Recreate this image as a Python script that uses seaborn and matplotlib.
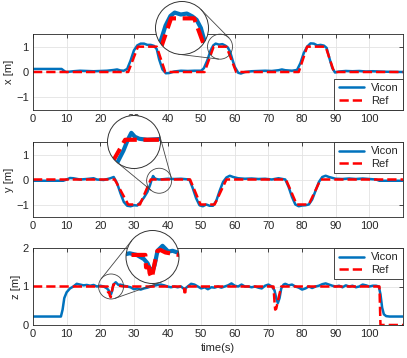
import numpy as np
import seaborn as sns
import matplotlib.pyplot as plt
from matplotlib.patches import Circle, Ellipse
from matplotlib.lines import Line2D

# ---- data ----
t_x_vicon = [0, 8.5, 9.5, 10, 12, 14, 16, 18, 20, 22, 24, 25, 26, 27, 28, 29, 30, 31, 32, 33,
             34, 35, 36, 36.8, 37.5, 38.5, 39.5, 40.5, 42, 44, 46, 48, 50, 50.8, 51.8, 52.8,
             53.6, 54.3, 55.3, 56.3, 57.2, 57.9, 58.6, 59.3, 60, 61, 61.8, 63, 65, 67, 69, 71,
             73, 74, 75, 77, 78.5, 79.5, 80.5, 81.5, 82.5, 83.5, 84.5, 85.5, 86.5, 87.3, 88, 89,
             89.8, 91, 93, 95, 97, 99, 101, 103, 105, 110]
x_vicon = [0.12, 0.12, 0.02, 0.0, 0.03, 0.05, 0.04, 0.03, 0.04, 0.05, 0.08, 0.1, 0.06, 0.05,
           0.12, 0.45, 0.85, 1.05, 1.12, 1.12, 1.07, 1.07, 1.03, 0.9, 0.5, 0.1, -0.05, -0.04,
           0.02, 0.05, 0.04, 0.05, 0.05, 0.15, 0.45, 0.85, 1.05, 1.12, 1.08, 1.1, 1.04, 0.97,
           0.8, 0.48, 0.2, -0.03, -0.06, 0.0, 0.03, 0.04, 0.05, 0.04, 0.07, 0.1, 0.07, 0.05,
           0.08, 0.35, 0.75, 1.0, 1.13, 1.12, 1.05, 1.07, 1.04, 0.95, 0.6, 0.15, -0.02, 0.02,
           0.04, 0.03, 0.04, 0.02, 0.03, 0.02, 0.01, 0.0]
t_x_ref = [0, 28.3, 31.2, 36.8, 39.3, 51.0, 53.7, 57.5, 60.4, 79, 81.5, 87, 89.5, 110]
x_ref = [0, 0, 1, 1, 0, 0, 1, 1, 0, 0, 1, 1, 0, 0]

t_y_vicon = [0, 9, 10, 11, 12, 14, 16, 18, 19, 21, 23, 24, 25, 26, 27, 28, 29, 30, 31, 32, 33,
             34, 34.8, 35.3, 35.7, 36.1, 36.6, 37.5, 38.5, 40, 42, 44, 46.5, 47.5, 48.5, 49.5,
             50.5, 51.5, 52.5, 53.5, 54.5, 55.5, 56.5, 57.5, 58.5, 59.5, 61, 63, 65, 67, 69, 71,
             73, 75, 76, 77, 78, 79, 80, 81, 82, 83, 84, 85, 86, 87, 88, 90, 92, 94, 96, 98, 100,
             102, 103, 110]
y_vicon = [-0.05, -0.05, 0.0, 0.06, 0.05, 0.0, 0.02, 0.05, 0.0, -0.02, 0.05, 0.1, -0.15, -0.55,
           -0.9, -1.05, -1.07, -1.03, -1.04, -0.9, -0.72, -0.5, -0.22, 0.0, 0.14, 0.06, 0.02,
           0.0, 0.01, 0.03, 0.02, 0.03, 0.0, -0.35, -0.75, -1.03, -1.07, -1.0, -1.05, -1.05,
           -0.85, -0.45, -0.1, 0.08, 0.15, 0.1, 0.05, 0.03, 0.04, 0.02, 0.03, 0.0, 0.05, 0.0,
           -0.3, -0.7, -1.0, -1.07, -1.04, -1.03, -1.0, -0.8, -0.45, -0.1, 0.1, 0.15, 0.1, 0.03,
           0.02, 0.04, 0.02, 0.04, 0.02, 0.0, -0.05, -0.05]
t_y_ref = [0, 24.3, 28.3, 31.8, 35, 46.7, 49.8, 54, 57.5, 75.2, 78.4, 82, 85.5, 110]
y_ref = [0, 0, -1, -1, 0, 0, -1, -1, 0, 0, -1, -1, 0, 0]

t_z_vicon = [0, 8.3, 8.8, 9.3, 10, 11, 12, 13, 14, 15, 16, 17, 18, 19, 20, 21, 22, 22.5, 22.9,
             23.2, 23.5, 23.9, 24.6, 25.4, 26, 27, 28, 29, 30, 31, 32, 33, 34, 35, 36, 37, 38,
             39, 40, 41, 42, 43, 44, 45, 46, 47, 48, 49, 50, 51, 52, 53, 54, 55, 56, 57, 58, 59,
             60, 61, 62, 63, 64, 65, 66, 67, 68, 69, 70, 71, 71.8, 72.3, 72.8, 73.3, 73.8, 74.5,
             75, 76, 77, 78, 79, 80, 81, 82, 83, 84, 85, 86, 87, 88, 89, 90, 91, 92, 93, 94, 95,
             96, 97, 98, 99, 100, 101, 102, 102.8, 103.3, 103.8, 104.3, 105, 106, 110]
z_vicon = [0.22, 0.22, 0.4, 0.7, 0.85, 0.95, 1.0, 1.07, 1.05, 1.03, 1.04, 1.02, 1.04, 1.0, 1.02,
           1.0, 0.95, 0.9, 0.82, 0.8, 0.88, 1.05, 1.11, 1.04, 1.05, 1.02, 1.0, 0.98, 0.93, 0.95,
           0.92, 0.95, 0.97, 1.0, 1.02, 1.04, 1.05, 1.03, 1.0, 0.98, 1.0, 0.98, 1.0, 0.93, 1.0,
           1.07, 1.05, 1.0, 0.95, 0.98, 0.93, 0.98, 0.97, 1.0, 0.97, 1.0, 1.03, 1.08, 1.02, 1.0,
           1.05, 1.0, 1.0, 0.98, 1.0, 0.97, 0.95, 1.02, 1.05, 1.0, 0.9, 0.7, 0.57, 0.7, 0.95,
           1.05, 1.07, 1.03, 1.05, 1.0, 0.97, 0.92, 0.95, 1.0, 0.96, 1.0, 1.02, 1.06, 1.08, 1.05,
           1.02, 1.0, 1.02, 0.98, 1.03, 1.0, 1.02, 0.98, 1.0, 1.05, 1.03, 1.0, 1.02, 1.02, 1.0,
           0.8, 0.45, 0.28, 0.23, 0.22, 0.22]
t_z_ref = [0, 22.2, 22.3, 22.7, 22.8, 23.1, 23.5, 23.9, 24.3, 25.0, 26.9, 44.9, 45.0, 45.3,
           45.4, 71.5, 71.8, 72.0, 72.3, 73.0, 73.8, 103.0, 103.3, 110]
z_ref = [1, 1, 0.85, 0.85, 0.78, 0.72, 0.9, 1.05, 1.06, 1.03, 1.0, 1, 0.85, 0.85, 1, 1, 0.6,
         0.4, 0.42, 0.7, 1, 1, 0, 0]

ylabels = ['x [m]', 'y [m]', 'z [m]']
xticks = list(range(0, 101, 10))

BLUE = '#0072BD'
RED = '#FF0000'
DARK = '#262626'

sns.set_theme(style='whitegrid')
plt.rcParams['font.family'] = ['Liberation Sans', 'DejaVu Sans']

W, H = 407, 358
fig = plt.figure(figsize=(W / 100, H / 100), dpi=100)


def rect(l, t, r, b):
    return [l / W, 1 - b / H, (r - l) / W, (b - t) / H]


def draw_pair(ax, tv, v, tr, r, lw):
    sns.lineplot(x=tv, y=v, ax=ax, color=BLUE, lw=lw, label='Vicon',
                 sort=False, estimator=None)
    sns.lineplot(x=tr, y=r, ax=ax, color=RED, lw=lw, linestyle='--', label='Ref',
                 sort=False, estimator=None)


def add_zoom(ax, tv, v, tr, r, center, rs, big, R, xl, yl):
    x0, x1 = ax.get_xlim()
    y0, y1 = ax.get_ylim()
    bb = ax.get_position()
    ppx = bb.width * W / (x1 - x0)
    ppy = bb.height * H / (y1 - y0)
    sx = bb.x0 * W + (center[0] - x0) * ppx
    sy = H - (bb.y0 * H + (center[1] - y0) * ppy)
    ax.add_patch(Ellipse(center, 2 * rs / ppx, 2 * rs / ppy, fill=False, ec='#444444',
                         lw=0.6, clip_on=False, zorder=6))
    bx, by = big
    ins = fig.add_axes(rect(bx - R, by - R, bx + R, by + R))
    ins.axis('off')
    bg = Circle((0.5, 0.5), 0.5, transform=ins.transAxes, fc='white', ec='none', zorder=0)
    ins.add_patch(bg)
    draw_pair(ins, tv, v, tr, r, 3.0)
    if ins.get_legend():
        ins.get_legend().remove()
    ins.set_xlim(*xl)
    ins.set_ylim(*yl)
    for ln in ins.lines:
        ln.set_clip_path(bg)
    ins.add_patch(Circle((0.5, 0.5), 0.5, transform=ins.transAxes, fill=False,
                         ec='#333333', lw=0.7, zorder=5, clip_on=False))
    # external tangents between the two circles (pixel space)
    c1 = np.array([sx, sy])
    c2 = np.array([bx, by], dtype=float)
    d = c2 - c1
    L = np.hypot(*d)
    u = d / L
    vv = np.array([-u[1], u[0]])
    cphi = (R - rs) / L
    sphi = np.sqrt(1 - cphi ** 2)
    for s in (1, -1):
        n = cphi * u + s * sphi * vv
        p1 = c1 - rs * n
        p2 = c2 - R * n
        fig.add_artist(Line2D([p1[0] / W, p2[0] / W], [1 - p1[1] / H, 1 - p2[1] / H],
                              transform=fig.transFigure, color='#444444', lw=0.6))


axes = [fig.add_axes(rect(33, 34, 403, 110)),
        fig.add_axes(rect(33, 142, 403, 217)),
        fig.add_axes(rect(33, 248, 403, 325))]
series = [(t_x_vicon, x_vicon, t_x_ref, x_ref),
          (t_y_vicon, y_vicon, t_y_ref, y_ref),
          (t_z_vicon, z_vicon, t_z_ref, z_ref)]
ylims = [(-1.5, 1.5), (-1.5, 1.5), (0, 2)]
yticks = [[-1, 0, 1], [-1, 0, 1], [0, 1, 2]]
locs = ['lower right', 'upper right', 'upper right']

for ax, (tv, v, tr, r), yl, yt, lab, loc in zip(axes, series, ylims, yticks, ylabels, locs):
    draw_pair(ax, tv, v, tr, r, 1.8)
    ax.set_xlim(0, 110)
    ax.set_ylim(*yl)
    ax.set_xticks(xticks)
    ax.set_yticks(yt)
    ax.set_facecolor('white')
    ax.grid(True, color='#e3e3e3', lw=0.6)
    for sp in ax.spines.values():
        sp.set_color(DARK)
        sp.set_linewidth(0.6)
    ax.tick_params(direction='in', length=3, width=0.6, top=True, right=True,
                   labelsize=8, colors=DARK, pad=3)
    ax.set_ylabel(lab, fontsize=8, color=DARK, labelpad=1.5)
    ax.set_xlabel('')
    ax.legend(loc=loc, frameon=True, fancybox=False, edgecolor=DARK, framealpha=1,
              borderaxespad=0, handlelength=2.3, labelspacing=0.2, fontsize=8,
              handletextpad=0.6, borderpad=0.4).get_frame().set_linewidth(0.6)

axes[2].set_xlabel('time(s)', fontsize=8, color=DARK, labelpad=3)

add_zoom(axes[0], t_x_vicon, x_vicon, t_x_ref, x_ref, (55.6, 1.0), 12.5, (182, 28), 26.5,
         (51.15, 59.85), (0.25, 1.35))
add_zoom(axes[1], t_y_vicon, y_vicon, t_y_ref, y_ref, (37.5, -0.05), 12.5, (134, 142), 26.5,
         (33.0, 39.0), (-0.58, 0.49))
add_zoom(axes[2], t_z_vicon, z_vicon, t_z_ref, z_ref, (23.2, 1.0), 12.5, (152.5, 257), 26.5,
         (19.5, 26.9), (0.655, 1.295))

fig.savefig('out.png', dpi=100)
